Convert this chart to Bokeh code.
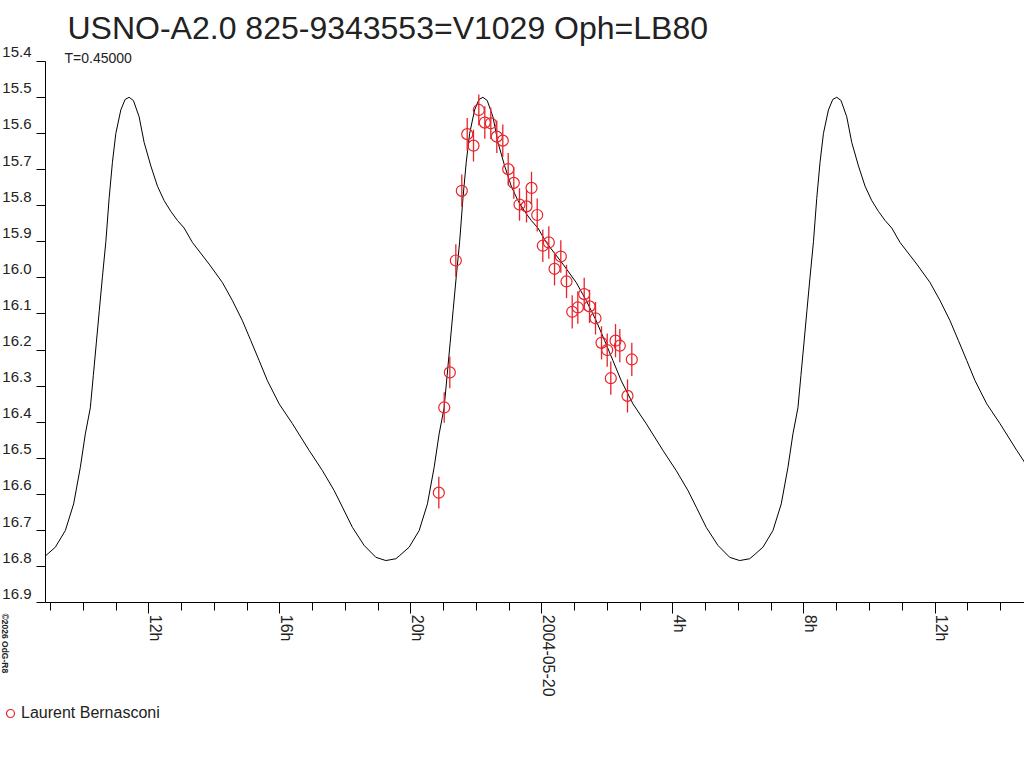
import math
from bokeh.plotting import figure
from bokeh.models import (Range1d, FixedTicker, PrintfTickFormatter, Label, LinearAxis,
                          Legend, LegendItem, ColumnDataSource)
from bokeh.embed import file_html
from bokeh.resources import INLINE

# ---------------- data ----------------
TITLE = "USNO-A2.0 825-9343553=V1029 Oph=LB80"
PERIOD_DAYS = 0.45
PERIOD_LABEL = "T=0.45000"
OBSERVER = "Laurent Bernasconi"
COPYRIGHT = "\u00a92026 OdG-R8"

# observations: hours relative to 2004-05-20 00:00 UT, magnitude, error
obs_h = [-3.147, -2.982, -2.811, -2.628, -2.445, -2.280, -2.088, -1.926, -1.743,
         -1.560, -1.377, -1.194, -1.029, -0.858, -0.684, -0.470, -0.317, -0.143,
         0.027, 0.211, 0.385, 0.577, 0.751, 0.925, 1.096, 1.291, 1.453, 1.636,
         1.819, 1.993, 2.103, 2.247, 2.378, 2.613, 2.744]
obs_mag = [16.595, 16.359, 16.262, 15.952, 15.759, 15.602, 15.634, 15.535, 15.570,
           15.572, 15.609, 15.620, 15.699, 15.737, 15.797, 15.802, 15.751, 15.826,
           15.911, 15.902, 15.975, 15.941, 16.010, 16.094, 16.082, 16.045, 16.079,
           16.112, 16.180, 16.200, 16.278, 16.174, 16.188, 16.327, 16.226]
obs_err = [0.044, 0.042, 0.044, 0.045, 0.045, 0.045, 0.044, 0.043, 0.045, 0.044,
           0.045, 0.045, 0.045, 0.044, 0.045, 0.045, 0.045, 0.046, 0.045, 0.045,
           0.046, 0.045, 0.046, 0.046, 0.045, 0.045, 0.046, 0.045, 0.046, 0.046,
           0.046, 0.046, 0.046, 0.046, 0.046]

# model light curve over one cycle: hours after maximum, magnitude
tmpl_h = [0.000, 0.131, 0.305, 0.458, 0.662, 0.864, 1.068, 1.273, 1.474, 1.679,
          1.932, 2.442, 2.848, 3.153, 3.459, 3.715, 3.968, 4.222, 4.579, 4.985,
          5.495, 5.901, 6.258, 6.511, 6.816, 7.173, 7.531, 7.836, 8.141, 8.247,
          8.547, 8.852, 9.106, 9.310, 9.463, 9.615, 9.707, 9.799, 9.890, 9.982,
          10.089, 10.189, 10.290, 10.394, 10.546, 10.678]
tmpl_mag = [15.500, 15.509, 15.554, 15.625, 15.690, 15.746, 15.786, 15.816, 15.841,
            15.862, 15.902, 15.962, 16.013, 16.063, 16.119, 16.174, 16.229, 16.285,
            16.349, 16.404, 16.478, 16.534, 16.589, 16.635, 16.691, 16.741, 16.774,
            16.783, 16.778, 16.770, 16.746, 16.700, 16.626, 16.525, 16.432, 16.360,
            16.270, 16.180, 16.090, 16.000, 15.900, 15.780, 15.680, 15.600, 15.535,
            15.506]
max_epoch_h = -1.80          # a time of maximum, hours from 2004-05-20 00:00
cycles = [-2, -1, 0, 1]

y_ticks = [15.4, 15.5, 15.6, 15.7, 15.8, 15.9, 16.0, 16.1, 16.2, 16.3, 16.4,
           16.5, 16.6, 16.7, 16.8, 16.9]
x_major = [-12, -8, -4, 0, 4, 8, 12]
x_major_labels = ["12h", "16h", "20h", "2004-05-20", "4h", "8h", "12h"]
x_minor = list(range(-15, 15))

# plotted time window (hours) and magnitude window
T_START, T_END = -15.153, 14.731
MAG_FAINT, MAG_BRIGHT = 16.9, 15.4

# ---------------- layout constants (pixels) ----------------
W, H = 1024, 760
PX_PER_H = 32.76
PX_PER_MAG = 361.07
AX_LEFT_PX, AX_BOTTOM_PX = 45, 602.3     # where the axes sit

x_full0 = T_START - AX_LEFT_PX / PX_PER_H
y_full_top = MAG_BRIGHT - (AX_BOTTOM_PX - (MAG_FAINT - MAG_BRIGHT) * PX_PER_MAG) / PX_PER_MAG
y_full_bottom = MAG_FAINT + (H - AX_BOTTOM_PX) / PX_PER_MAG
Y_LAB_SHIFT = 9 / PX_PER_MAG      # tick labels sit just above their ticks
X_LAB_SHIFT = 6.5 / PX_PER_H      # rotated labels sit just right of their ticks

# ---------------- build ----------------
period_h = PERIOD_DAYS * 24.0
curve_x, curve_y = [], []
for k in cycles:
    for dt, m in zip(tmpl_h, tmpl_mag):
        t = max_epoch_h + k * period_h + dt
        if T_START - 1e-6 <= t <= T_END + 1.0:
            curve_x.append(t)
            curve_y.append(m)

FONT = "Liberation Sans"
TXT = "#222222"
RED = "#e8232b"

p = figure(width=W, height=H, output_backend="svg", toolbar_location=None,
           x_range=Range1d(x_full0, T_END), y_range=Range1d(y_full_bottom, y_full_top),
           min_border_left=0, min_border_right=0, min_border_top=0, min_border_bottom=0)
p.extra_y_ranges = {"ylab": Range1d(y_full_bottom + Y_LAB_SHIFT, y_full_top + Y_LAB_SHIFT)}
p.extra_x_ranges = {"xlab": Range1d(x_full0 - X_LAB_SHIFT, T_END - X_LAB_SHIFT)}
p.outline_line_color = None
p.xgrid.visible = False
p.ygrid.visible = False
p.background_fill_color = "white"
p.border_fill_color = "white"

p.line(curve_x, curve_y, line_color="black", line_width=1)

src = ColumnDataSource(dict(x=obs_h, y=obs_mag,
                            lo=[m - e for m, e in zip(obs_mag, obs_err)],
                            hi=[m + e for m, e in zip(obs_mag, obs_err)]))
p.segment(x0="x", y0="lo", x1="x", y1="hi", source=src, line_color=RED, line_width=1.3)
pts = p.scatter(x="x", y="y", source=src, marker="circle", size=11,
                fill_color=None, line_color=RED, line_width=1.2)

# y axis: line + ticks
ya = p.yaxis[0]
ya.fixed_location = T_START
ya.bounds = (MAG_BRIGHT, MAG_FAINT)
ya.ticker = FixedTicker(ticks=y_ticks, minor_ticks=[])
ya.formatter = PrintfTickFormatter(format="")
ya.major_tick_in = 0
ya.major_tick_out = 9
ya.minor_tick_out = 0
ya.minor_tick_in = 0
ya.major_label_standoff = 0
ya.axis_line_color = "black"
ya.major_tick_line_color = "black"

# y axis: tick labels
yl = LinearAxis(y_range_name="ylab", ticker=FixedTicker(ticks=y_ticks, minor_ticks=[]),
                formatter=PrintfTickFormatter(format="%.1f"))
yl.fixed_location = T_START - 9 / PX_PER_H
yl.axis_line_color = None
yl.major_tick_line_color = None
yl.minor_tick_line_color = None
yl.major_tick_in = 0
yl.major_tick_out = 0
yl.major_label_standoff = 5
yl.major_label_text_font = FONT
yl.major_label_text_font_size = "15px"
yl.major_label_text_color = TXT
p.add_layout(yl, "left")

# x axis: line + ticks
xa = p.xaxis[0]
xa.fixed_location = MAG_FAINT
xa.bounds = (T_START, T_END)
xa.ticker = FixedTicker(ticks=x_major, minor_ticks=x_minor)
xa.formatter = PrintfTickFormatter(format="")
xa.major_tick_in = 0
xa.major_tick_out = 11
xa.minor_tick_in = 0
xa.minor_tick_out = 8
xa.major_label_standoff = 0
xa.axis_line_color = "black"
xa.major_tick_line_color = "black"
xa.minor_tick_line_color = "black"

# x axis: tick labels
xl = LinearAxis(x_range_name="xlab", ticker=FixedTicker(ticks=x_major, minor_ticks=[]))
xl.fixed_location = MAG_FAINT
xl.major_label_overrides = {t: s for t, s in zip(x_major, x_major_labels)}
xl.axis_line_color = None
xl.major_tick_line_color = None
xl.minor_tick_line_color = None
xl.major_tick_in = 0
xl.major_tick_out = 0
xl.major_label_standoff = 12
xl.major_label_orientation = -math.pi / 2
xl.major_label_text_font = FONT
xl.major_label_text_font_size = "16px"
xl.major_label_text_color = TXT
p.add_layout(xl, "below")

# legend
legend = Legend(items=[LegendItem(label=OBSERVER, renderers=[pts])],
                location=(0, 37), glyph_width=20, glyph_height=20,
                padding=0, margin=0, spacing=0, label_standoff=1,
                border_line_color=None, background_fill_alpha=0,
                label_text_font=FONT, label_text_font_size="16px",
                label_text_color=TXT)
p.add_layout(legend)

# texts
p.add_layout(Label(x=67, y=H - 27, x_units="screen", y_units="screen", text=TITLE,
                   text_font=FONT, text_font_size="32px", text_color=TXT,
                   text_baseline="alphabetic"))
p.add_layout(Label(x=64, y=H - 57.5, x_units="screen", y_units="screen", text=PERIOD_LABEL,
                   text_font=FONT, text_font_size="14px", text_color=TXT,
                   text_baseline="alphabetic"))
p.add_layout(Label(x=4, y=H - 613, x_units="screen", y_units="screen", text=COPYRIGHT,
                   angle=-math.pi / 2, text_font=FONT, text_font_size="8.5px",
                   text_font_style="bold", text_color=TXT, text_baseline="middle",
                   text_align="left"))

open("out.html", "w").write(file_html(p, INLINE))
